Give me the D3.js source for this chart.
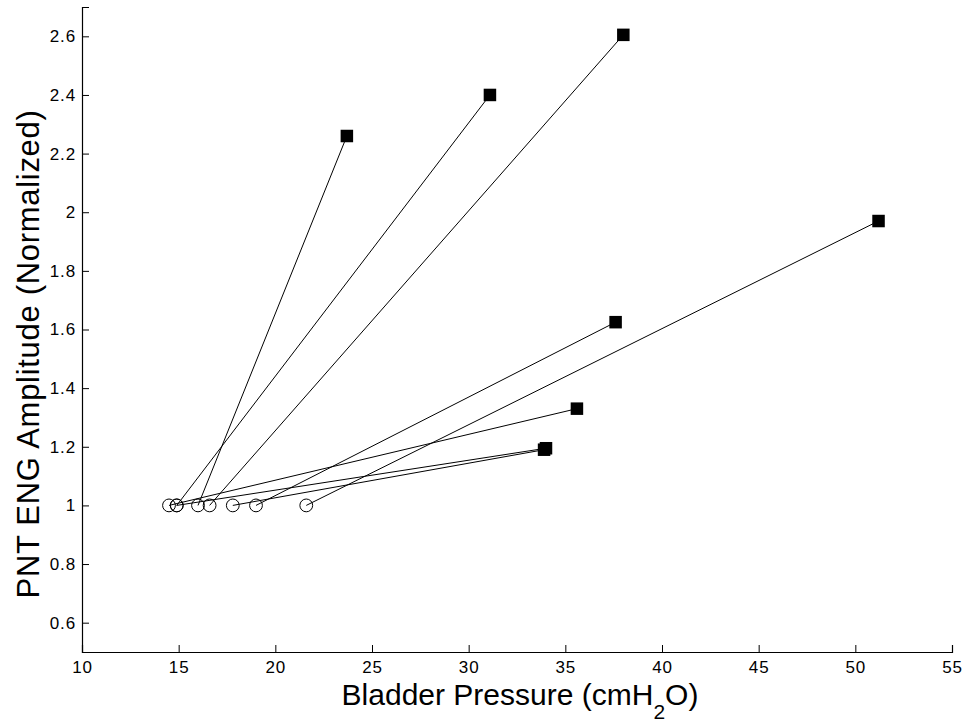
<!DOCTYPE html>
<html>
<head>
<meta charset="utf-8">
<script src="https://cdn.jsdelivr.net/npm/d3@7"></script>
<style>
  html, body { margin: 0; padding: 0; background: #fff; }
  svg { display: block; font-family: "Liberation Sans", Arial, sans-serif; }
</style>
</head>
<body>
<div id="chart"></div>
<script>
(() => {
  "use strict";

  // baseline (circle) and peak (square) points, paired by index
  const basePressure = [14.5, 14.9, 14.9, 16.0, 16.6, 17.8, 19.0, 21.6];
  const baseAmp      = [1, 1, 1, 1, 1, 1, 1, 1];
  const peakPressure = [35.6, 31.1, 34.0, 23.7, 38.0, 33.9, 37.6, 51.2];
  const peakAmp      = [1.33, 2.40, 1.195, 2.26, 2.605, 1.19, 1.625, 1.97];

  const xTicks = [10, 15, 20, 25, 30, 35, 40, 45, 50, 55];
  const yTicks = [0.6, 0.8, 1, 1.2, 1.4, 1.6, 1.8, 2, 2.2, 2.4, 2.6];

  const width = 967, height = 723;
  const svg = d3.select("#chart").append("svg")
    .attr("width", width).attr("height", height);

  const x = d3.scaleLinear().domain([10, 55]).range([82, 952]);
  const y = d3.scaleLinear().domain([0.5, 2.7]).range([652, 7]);

  const pairs = basePressure.map((p, i) => ({
    x0: p, y0: baseAmp[i], x1: peakPressure[i], y1: peakAmp[i]
  }));

  // axes (ticks pointing inward, no box)
  const xAxis = d3.axisBottom(x).tickValues(xTicks).tickSize(-7).tickPadding(9)
    .tickFormat(d3.format("d"));
  const yAxis = d3.axisLeft(y).tickValues(yTicks).tickSize(-7).tickPadding(6)
    .tickFormat(d => String(+d.toFixed(1)));

  const gx = svg.append("g").attr("transform", `translate(0,${y.range()[0]})`).call(xAxis);
  const gy = svg.append("g").attr("transform", `translate(${x.range()[0]},0)`).call(yAxis);
  [gx, gy].forEach(g => {
    g.select(".domain").attr("stroke", "#000").attr("stroke-width", 1.2);
    g.selectAll(".tick line").attr("stroke", "#000");
    g.selectAll(".tick text").attr("fill", "#000")
      .style("font-size", "17px").style("letter-spacing", "0.9px");
  });

  // connecting lines
  svg.append("g").selectAll("line").data(pairs).join("line")
    .attr("x1", d => x(d.x0)).attr("y1", d => y(d.y0))
    .attr("x2", d => x(d.x1)).attr("y2", d => y(d.y1))
    .attr("stroke", "#000").attr("stroke-width", 1);

  // baseline circles
  svg.append("g").selectAll("circle").data(pairs).join("circle")
    .attr("cx", d => x(d.x0)).attr("cy", d => y(d.y0)).attr("r", 6.4)
    .attr("fill", "none").attr("stroke", "#000").attr("stroke-width", 1);

  // peak squares
  const s = 12.5;
  svg.append("g").selectAll("rect").data(pairs).join("rect")
    .attr("x", d => x(d.x1) - s / 2).attr("y", d => y(d.y1) - s / 2)
    .attr("width", s).attr("height", s)
    .attr("fill", "#000");

  // axis titles
  const xt = svg.append("text")
    .attr("x", 520).attr("y", 705)
    .attr("text-anchor", "middle").style("font-size", "30px").attr("fill", "#000");
  xt.append("tspan").text("Bladder Pressure (cmH");
  xt.append("tspan").attr("dy", 14).style("font-size", "21px").text("2");
  xt.append("tspan").attr("dy", -14).text("O)");

  svg.append("text")
    .attr("transform", `translate(39,354) rotate(-90)`)
    .attr("text-anchor", "middle").style("font-size", "31px").attr("fill", "#000")
    .style("letter-spacing", "0.7px")
    .text("PNT ENG Amplitude (Normalized)");
})();
</script>
</body>
</html>
